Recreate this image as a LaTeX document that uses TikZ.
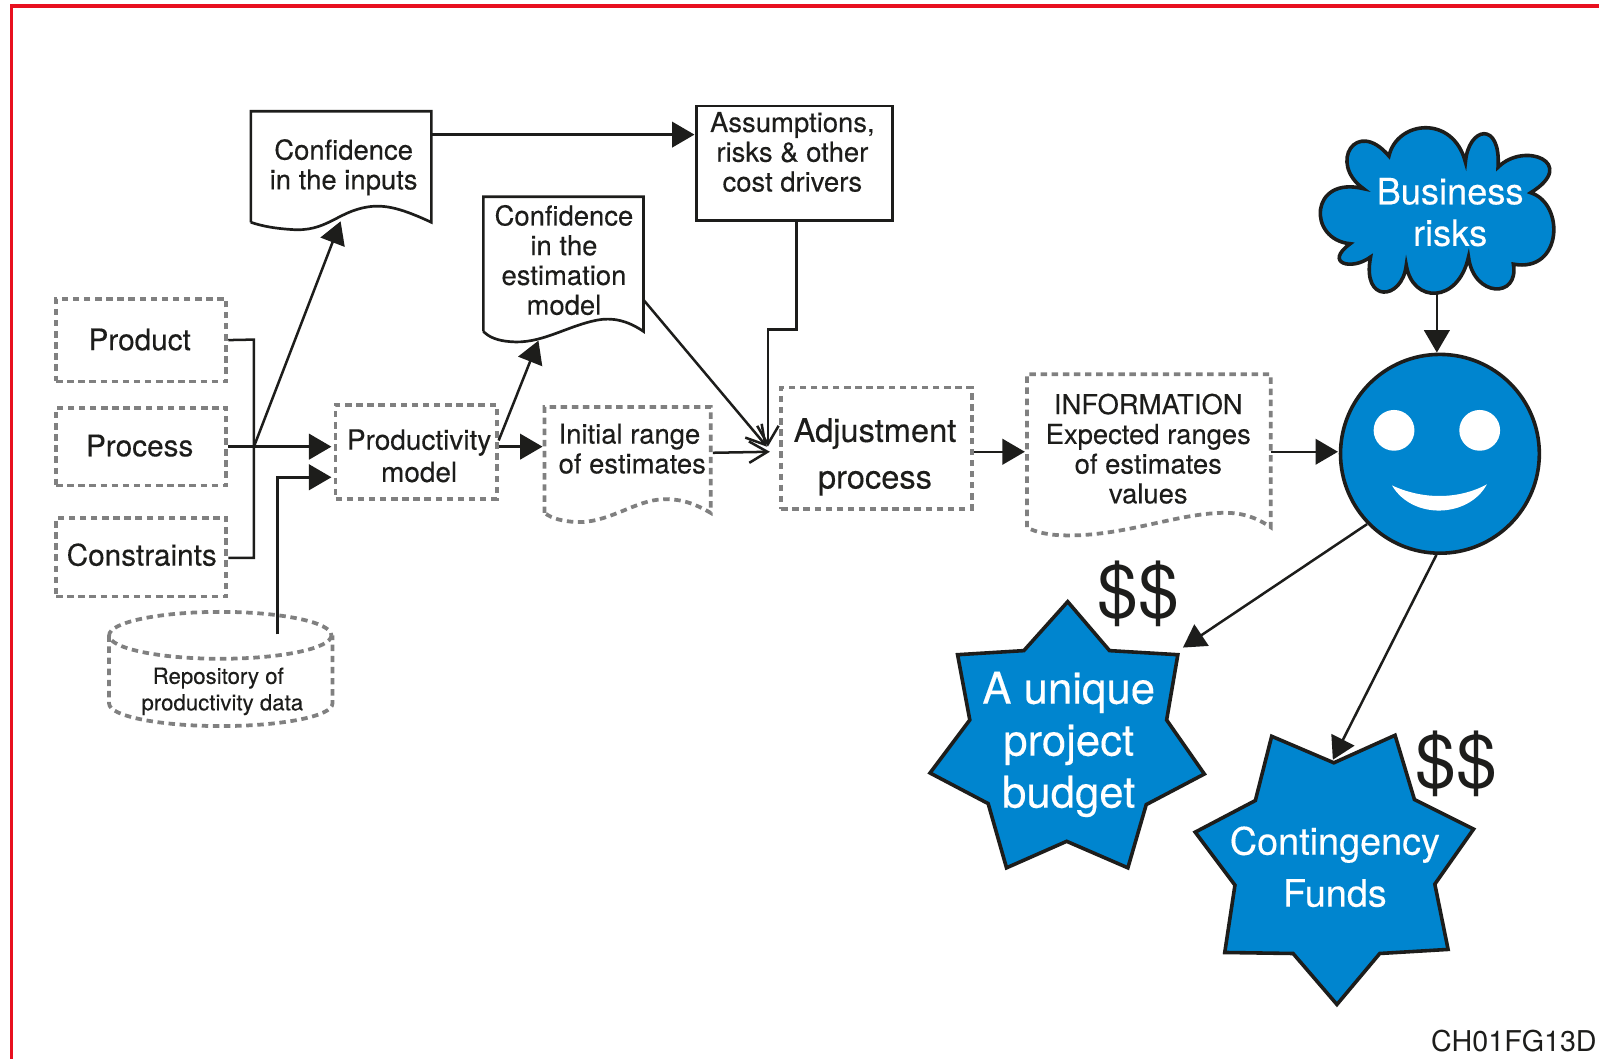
\documentclass[tikz,border=0pt]{standalone}
\usepackage{fontspec}
\setmainfont{TeX Gyre Heros}
\newfontfamily\medfont[FakeBold=0.25]{TeX Gyre Heros}
\usetikzlibrary{arrows.meta}
\definecolor{inkblack}{HTML}{1D1D1B}
\definecolor{starblue}{HTML}{0085CF}
\definecolor{framered}{HTML}{E8101F}
\definecolor{dashgray}{HTML}{808080}
\tikzset{
   txt/.style={text=inkblack,align=center,inner sep=0pt,font=\medfont\fontsize{15.3}{16.6}\selectfont},
   dashline/.style={draw=dashgray,line width=2.1pt,dash pattern=on 3.6pt off 2.6pt},
   dashbox/.style={txt,dashline,rectangle},
   solidline/.style={draw=inkblack,line width=1.5pt},
   flow/.style={draw=inkblack,line width=1.4pt,-{Triangle[length=0.44cm,width=0.5cm]}},
   flowopen/.style={draw=inkblack,line width=1.4pt,-{Straight Barb[length=0.36cm,width=0.42cm]}},
   plain/.style={draw=inkblack,line width=1.4pt},
   bluefill/.style={fill=starblue,draw=inkblack,line width=2pt,line join=miter},
   whitetxt/.style={text=white,align=center,inner sep=0pt},
}
\begin{document}
\begin{tikzpicture}[x=0.02cm,y=-0.02cm]
   \useasboundingbox (0,0) rectangle (1568,1038);
   \draw[draw=framered,line width=1.9pt] (1568,6) -- (11,6) -- (11,1038);

   % input boxes
   \node[dashbox,minimum width=3.34cm,minimum height=1.62cm] (product) at (138.5,333.5) {};
   \node[txt,font=\medfont\fontsize{16.6}{18}\selectfont] (producttxt) at (137,333) {Product};
   \node[dashbox,minimum width=3.34cm,minimum height=1.52cm] (process) at (138.5,438) {};
   \node[txt,font=\medfont\fontsize{16.6}{18}\selectfont] (processtxt) at (137,437) {Process};
   \node[dashbox,minimum width=3.34cm,minimum height=1.54cm] (constraints) at (138.5,546.5) {};
   \node[txt,font=\medfont\fontsize{16.6}{18}\selectfont] (constraintstxt) at (139,544) {Constraints};
   \node[dashbox,minimum width=3.16cm,minimum height=1.84cm] (productivity) at (408,443) {};
   \node[txt,font=\medfont\fontsize{15.6}{18}\selectfont] (productivitytxt) at (411,447) {Productivity\\model};
   \node[dashbox,minimum width=3.74cm,minimum height=2.38cm] (adjustment) at (859.5,439.5) {};
   \node[txt,font=\medfont\fontsize{18.2}{26}\selectfont] (adjustmenttxt) at (858,448) {Adjustment\\process};
   \node[draw=inkblack,line width=1.5pt,minimum width=3.84cm,minimum height=2.24cm] (assumptions) at (779,160) {};
   \node[txt] (assumptionstxt) at (777,149) {Assumptions,\\risks \& other\\cost drivers};

   % documents
   \draw[solidline] (246,218) -- (246,109) -- (423,109) -- (423,218)
      .. controls (395,205) and (378,200) .. (360,203)
      .. controls (330,208) and (320,228) .. (285,225)
      .. controls (270,224) and (258,222) .. (246,218);
   \node[txt] (inputs) at (337,164) {Confidence\\in the inputs};
   \draw[solidline] (474,325) -- (474,193) -- (631,193) -- (631,325)
      .. controls (615,314) and (600,311) .. (585,314)
      .. controls (555,320) and (530,338) .. (500,335)
      .. controls (488,334) and (480,331) .. (474,325);
   \node[txt] (confmodel) at (553,255) {Confidence\\in the\\estimation\\model};
   \draw[dashline] (534,503) -- (534,399) -- (697,399) -- (697,503)
      .. controls (680,493) and (665,488) .. (645,490)
      .. controls (620,493) and (595,513) .. (565,512)
      .. controls (552,511) and (542,509) .. (534,503);
   \node[txt,align=left] (initial) at (620,440) {Initial range\\of estimates};
   \draw[dashline] (1007,517) -- (1007,367) -- (1246,367) -- (1246,517)
      .. controls (1230,506) and (1215,502) .. (1195,503)
      .. controls (1150,505) and (1100,526) .. (1045,525)
      .. controls (1030,525) and (1015,522) .. (1007,517);
   \node[txt] (information) at (1126,440) {INFORMATION\\Expected ranges\\of estimates\\values};

   % repository
   \draw[dashline] (216,623) ellipse[x radius=109,y radius=23];
   \draw[dashline] (107,623) -- (107,690) arc[start angle=180,end angle=0,x radius=109.5,y radius=22] -- (326,623);
   \node[txt,font=\medfont\fontsize{12.4}{15.4}\selectfont] (repositorya) at (214,665) {Repository of};
   \node[txt,font=\medfont\fontsize{12.4}{15.4}\selectfont] (repositoryb) at (218,691) {productivity data};

   % cloud, face and stars
   \draw[bluefill] (1362,153)
      .. controls (1370,118) and (1425,112) .. (1437,159)
      .. controls (1440,124) and (1472,118) .. (1469,164)
      .. controls (1495,138) and (1548,160) .. (1501,189)
      .. controls (1535,200) and (1532,268) .. (1484,259)
      .. controls (1490,293) and (1445,292) .. (1440,252)
      .. controls (1430,298) and (1385,298) .. (1379,260)
      .. controls (1375,295) and (1335,298) .. (1344,252)
      .. controls (1325,266) and (1298,258) .. (1324,239)
      .. controls (1282,235) and (1284,172) .. (1337,185)
      .. controls (1302,160) and (1330,115) .. (1362,153) -- cycle;
   \node[whitetxt,font=\medfont\fontsize{20.2}{23.2}\selectfont] (cloud) at (1422,208) {Business\\risks};
   \node[circle,bluefill,minimum size=3.9cm,inner sep=0pt] (smiley) at (1412,445) {};
   \fill[white] (1367,422) circle(20);
   \fill[white] (1451,422) circle(20);
   \fill[white] (1365,476) .. controls (1395,490) and (1430,490) .. (1458,475)
      .. controls (1440,508) and (1385,510) .. (1365,476) -- cycle;
   \draw[bluefill] (1047,590) -- (1088,638) -- (1155,642) -- (1144,706) -- (1181,759) -- (1124,789)
      -- (1106,851) -- (1046,825) -- (987,851) -- (969,788) -- (912,758) -- (951,706)
      -- (939,642) -- (1004,638) -- cycle;
   \node[whitetxt,font=\medfont\fontsize{24.4}{29}\selectfont] (budget) at (1048,730) {A unique\\project\\budget};
   \draw[bluefill] (1308,748) -- (1368,721) -- (1387,784) -- (1445,813) -- (1407,867) -- (1420,931)
      -- (1353,935) -- (1311,985) -- (1268,935) -- (1201,934) -- (1211,868) -- (1172,816)
      -- (1231,785) -- (1247,722) -- cycle;
   \node[whitetxt,font=\medfont\fontsize{21.1}{29}\selectfont] (funds) at (1309,850) {Contingency\\Funds};
   \node[txt,font=\fontsize{41}{42}\selectfont] (dollarsa) at (1116,582) {\$\$};
   \node[txt,font=\fontsize{41}{42}\selectfont] (dollarsb) at (1428,749) {\$\$};
   \node[txt,anchor=east,font=\fontsize{16}{18}\selectfont] (figid) at (1566,1021) {CH01FG13D};

   % connector ends
   \coordinate (busa) at (249,333);
   \coordinate (busb) at (249,438);
   \coordinate (busc) at (249,547);
   \coordinate (inputsin) at (334,217);
   \coordinate (inputsout) at (423,132);
   \coordinate (assumin) at (681,132);
   \coordinate (prodina) at (325,438);
   \coordinate (prodinb) at (325,468);
   \coordinate (repotop) at (272,622);
   \coordinate (prodouta) at (489,432);
   \coordinate (prodoutb) at (489,438);
   \coordinate (confin) at (528,334);
   \coordinate (initin) at (532,438);
   \coordinate (initout) at (699,444);
   \coordinate (adjina) at (755,443);
   \coordinate (adjinb) at (752,438);
   \coordinate (confout) at (631,294);
   \coordinate (assumout) at (781,216);
   \coordinate (assumdrop) at (753,323);
   \coordinate (adjout) at (955,443);
   \coordinate (infoin) at (1005,443);
   \coordinate (infoout) at (1246,443);
   \coordinate (smileyin) at (1312,443);
   \coordinate (cloudout) at (1409,288);
   \coordinate (budgetin) at (1160,635);
   \coordinate (fundsin) at (1307,745);

   % connectors
   \draw[plain] (product.east) -- (busa) -- (busc) -- (constraints.east |- busc);
   \draw[flow] (process.east) -- (prodina);
   \draw[flow] (busb) -- (inputsin);
   \draw[flow] (repotop) |- (prodinb);
   \draw[flow] (inputsout) -- (assumin);
   \draw[flow] (prodouta) -- (confin);
   \draw[flow] (prodoutb) -- (initin);
   \draw[flowopen] (initout) -- (adjina);
   \draw[flowopen] (confout) -- (adjinb);
   \draw[flowopen] (assumout) |- (assumdrop) -- (adjinb -| assumdrop);
   \draw[flow] (adjout) -- (infoin);
   \draw[flow] (infoout) -- (smileyin);
   \draw[flow] (cloudout) -- (smiley.north -| cloudout);
   \draw[flow] (smiley.224) -- (budgetin);
   \draw[flow] (smiley.268) -- (fundsin);
\end{tikzpicture}
\end{document}
